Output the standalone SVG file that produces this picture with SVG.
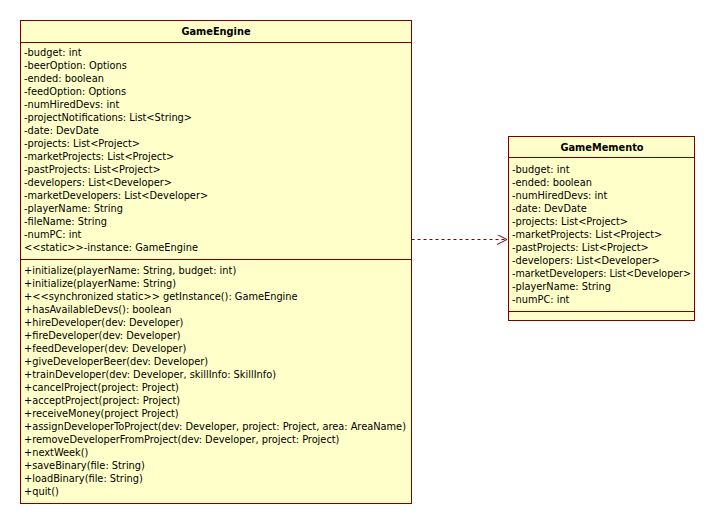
<svg xmlns="http://www.w3.org/2000/svg" width="716" height="524" viewBox="0 0 716 524">
<style>
.box{fill:#ffffca;stroke:#800000;stroke-width:1}
.sep{stroke:#800000;stroke-width:1}
text{font-family:Tahoma,"DejaVu Sans Condensed","Liberation Sans",Arial,sans-serif;font-size:10.9px;fill:#000}
.title{font-weight:bold;text-anchor:middle}
.dep{fill:none;stroke:#800000;stroke-width:1;stroke-dasharray:3,3}
</style>
<defs>
<marker id="open" markerWidth="12" markerHeight="12" refX="10" refY="5" orient="auto" markerUnits="userSpaceOnUse">
<path d="M0,0 L10,5 L0,10" fill="none" stroke="#800000" stroke-width="1"/>
</marker>
</defs>
<rect width="716" height="524" fill="#ffffff"/>
<g id="connectors">
<line class="dep" x1="411.5" y1="239.5" x2="507" y2="239.5" marker-end="url(#open)"/>
</g>
<g id="GameEngine">
<rect class="box" x="20.5" y="20.5" width="391" height="483"/>
<line class="sep" x1="20.5" y1="42.5" x2="411.5" y2="42.5"/>
<line class="sep" x1="20.5" y1="259.5" x2="411.5" y2="259.5"/>
<text class="title" x="216" y="35">GameEngine</text>
<text x="24" y="56">-budget: int</text>
<text x="24" y="69">-beerOption: Options</text>
<text x="24" y="82">-ended: boolean</text>
<text x="24" y="95">-feedOption: Options</text>
<text x="24" y="108">-numHiredDevs: int</text>
<text x="24" y="121">-projectNotifications: List&lt;String&gt;</text>
<text x="24" y="134">-date: DevDate</text>
<text x="24" y="147">-projects: List&lt;Project&gt;</text>
<text x="24" y="160">-marketProjects: List&lt;Project&gt;</text>
<text x="24" y="173">-pastProjects: List&lt;Project&gt;</text>
<text x="24" y="186">-developers: List&lt;Developer&gt;</text>
<text x="24" y="199">-marketDevelopers: List&lt;Developer&gt;</text>
<text x="24" y="212">-playerName: String</text>
<text x="24" y="225">-fileName: String</text>
<text x="24" y="238">-numPC: int</text>
<text x="24" y="251">&lt;&lt;static&gt;&gt;-instance: GameEngine</text>
<text x="24" y="274">+initialize(playerName: String, budget: int)</text>
<text x="24" y="287">+initialize(playerName: String)</text>
<text x="24" y="300">+&lt;&lt;synchronized static&gt;&gt; getInstance(): GameEngine</text>
<text x="24" y="313">+hasAvailableDevs(): boolean</text>
<text x="24" y="326">+hireDeveloper(dev: Developer)</text>
<text x="24" y="339">+fireDeveloper(dev: Developer)</text>
<text x="24" y="352">+feedDeveloper(dev: Developer)</text>
<text x="24" y="365">+giveDeveloperBeer(dev: Developer)</text>
<text x="24" y="378">+trainDeveloper(dev: Developer, skillInfo: SkillInfo)</text>
<text x="24" y="391">+cancelProject(project: Project)</text>
<text x="24" y="404">+acceptProject(project: Project)</text>
<text x="24" y="417">+receiveMoney(project Project)</text>
<text x="24" y="430" textLength="382" lengthAdjust="spacingAndGlyphs">+assignDeveloperToProject(dev: Developer, project: Project, area: AreaName)</text>
<text x="24" y="443">+removeDeveloperFromProject(dev: Developer, project: Project)</text>
<text x="24" y="456">+nextWeek()</text>
<text x="24" y="469">+saveBinary(file: String)</text>
<text x="24" y="482">+loadBinary(file: String)</text>
<text x="24" y="495">+quit()</text>
</g>
<g id="GameMemento">
<rect class="box" x="508.5" y="136.5" width="186" height="184"/>
<line class="sep" x1="508.5" y1="157.5" x2="694.5" y2="157.5"/>
<line class="sep" x1="508.5" y1="311.5" x2="694.5" y2="311.5"/>
<text class="title" x="602" y="151">GameMemento</text>
<text x="512" y="173">-budget: int</text>
<text x="512" y="186">-ended: boolean</text>
<text x="512" y="199">-numHiredDevs: int</text>
<text x="512" y="212">-date: DevDate</text>
<text x="512" y="225">-projects: List&lt;Project&gt;</text>
<text x="512" y="238">-marketProjects: List&lt;Project&gt;</text>
<text x="512" y="251">-pastProjects: List&lt;Project&gt;</text>
<text x="512" y="264">-developers: List&lt;Developer&gt;</text>
<text x="512" y="277" textLength="179" lengthAdjust="spacingAndGlyphs">-marketDevelopers: List&lt;Developer&gt;</text>
<text x="512" y="290">-playerName: String</text>
<text x="512" y="303">-numPC: int</text>
</g>
</svg>
